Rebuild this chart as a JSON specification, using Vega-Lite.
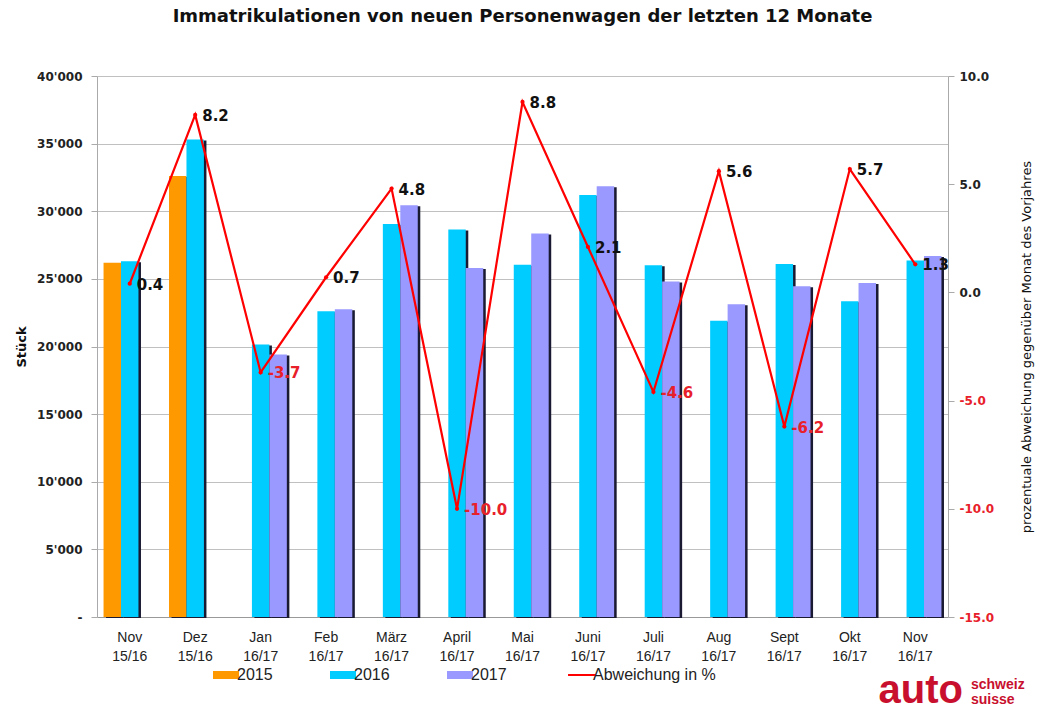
{
  "$schema": "https://vega.github.io/schema/vega-lite/v6.json",
  "background": "white",
  "padding": {"left": 15, "top": 8, "right": 5, "bottom": 0},
  "spacing": -12,
  "datasets": {
    "bars": [
      {"month": "Nov 15/16", "year": "2015", "value": 26200},
      {"month": "Nov 15/16", "year": "2016", "value": 26300},
      {"month": "Dez 15/16", "year": "2015", "value": 32600},
      {"month": "Dez 15/16", "year": "2016", "value": 35300},
      {"month": "Jan 16/17", "year": "2016", "value": 20150},
      {"month": "Jan 16/17", "year": "2017", "value": 19400},
      {"month": "Feb 16/17", "year": "2016", "value": 22600},
      {"month": "Feb 16/17", "year": "2017", "value": 22750},
      {"month": "März 16/17", "year": "2016", "value": 29050},
      {"month": "März 16/17", "year": "2017", "value": 30450},
      {"month": "April 16/17", "year": "2016", "value": 28650},
      {"month": "April 16/17", "year": "2017", "value": 25800},
      {"month": "Mai 16/17", "year": "2016", "value": 26050},
      {"month": "Mai 16/17", "year": "2017", "value": 28350},
      {"month": "Juni 16/17", "year": "2016", "value": 31200},
      {"month": "Juni 16/17", "year": "2017", "value": 31850},
      {"month": "Juli 16/17", "year": "2016", "value": 26000},
      {"month": "Juli 16/17", "year": "2017", "value": 24800},
      {"month": "Aug 16/17", "year": "2016", "value": 21900},
      {"month": "Aug 16/17", "year": "2017", "value": 23125},
      {"month": "Sept 16/17", "year": "2016", "value": 26100},
      {"month": "Sept 16/17", "year": "2017", "value": 24450},
      {"month": "Okt 16/17", "year": "2016", "value": 23350},
      {"month": "Okt 16/17", "year": "2017", "value": 24700},
      {"month": "Nov 16/17", "year": "2016", "value": 26350},
      {"month": "Nov 16/17", "year": "2017", "value": 26700}
    ],
    "pct": [
      {"month": "Nov 15/16", "pct": 0.4},
      {"month": "Dez 15/16", "pct": 8.2},
      {"month": "Jan 16/17", "pct": -3.7},
      {"month": "Feb 16/17", "pct": 0.7},
      {"month": "März 16/17", "pct": 4.8},
      {"month": "April 16/17", "pct": -10.0},
      {"month": "Mai 16/17", "pct": 8.8},
      {"month": "Juni 16/17", "pct": 2.1},
      {"month": "Juli 16/17", "pct": -4.6},
      {"month": "Aug 16/17", "pct": 5.6},
      {"month": "Sept 16/17", "pct": -6.2},
      {"month": "Okt 16/17", "pct": 5.7},
      {"month": "Nov 16/17", "pct": 1.3}
    ],
    "logo": [{"a": "auto", "b": "schweiz|suisse"}]
  },
  "vconcat": [
    {
      "width": 851,
      "height": 541,
      "title": {
        "text": "Immatrikulationen von neuen Personenwagen der letzten 12 Monate",
        "font": "DejaVu Sans",
        "fontSize": 18,
        "fontWeight": "bold",
        "color": "#111111",
        "anchor": "middle",
        "offset": 44
      },
      "layer": [
        {
          "data": {"name": "bars"},
          "encoding": {
            "x": {
              "field": "month", "type": "nominal", "sort": null,
              "scale": {"paddingInner": 0.2, "paddingOuter": 0.1},
              "axis": {
                "title": null,
                "labelAngle": 0,
                "labelExpr": "split(datum.label, ' ')",
                "labelFontSize": 14,
                "labelColor": "#222222",
                "labelPadding": 13,
                "ticks": false,
                "domainColor": "#999999",
                "labelLineHeight": 19
              }
            },
            "y": {
              "field": "value", "type": "quantitative",
              "scale": {"domain": [0, 40000], "nice": false},
              "axis": {
                "title": "Stück",
                "titleFont": "DejaVu Sans",
                "titleFontSize": 13,
                "titleFontWeight": "bold",
                "titleColor": "#111111",
                "titlePadding": 8,
                "values": [0, 5000, 10000, 15000, 20000, 25000, 30000, 35000, 40000],
                "labelExpr": "datum.value == 0 ? '-' : replace(format(datum.value, ','), ',', \"'\")",
                "labelFont": "DejaVu Sans",
                "labelFontSize": 12,
                "labelFontWeight": "bold",
                "labelColor": "#222222",
                "grid": true,
                "gridColor": "#c0c0c0",
                "domainColor": "#aaaaaa",
                "tickColor": "#aaaaaa",
                "tickSize": 6,
                "labelPadding": 9
              }
            }
          },
          "layer": [
            {
              "mark": {"type": "bar", "color": "#1a1a33", "yOffset": 1},
              "encoding": {
                "xOffset": {"field": "year", "type": "nominal", "scale": {"domain": ["2015", "2016", "2017"], "paddingInner": 0, "range": [2.5, 54.9]}}
              }
            },
            {
              "mark": {"type": "bar"},
              "encoding": {
                "xOffset": {"field": "year", "type": "nominal", "scale": {"domain": ["2015", "2016", "2017"], "paddingInner": 0}},
                "color": {
                  "field": "year", "type": "nominal",
                  "scale": {
                    "domain": ["2015", "2016", "2017", "Abweichung in %"],
                    "range": ["#ff9900", "#00ccff", "#9999ff", "#ff0000"]
                  },
                  "legend": {
                    "orient": "none",
                    "legendX": 121,
                    "legendY": 591,
                    "direction": "horizontal",
                    "title": null,
                    "padding": 0,
                    "labelFontSize": 16,
                    "labelColor": "#222222",
                    "labelOffset": 3,
                    "symbolType": "M-2.6,-0.8H2.6V0.8H-2.6Z",
                    "symbolSize": 100,
                    "columnPadding": 57,
                    "labelLimit": 300,
                    "encode": {
                      "symbols": {
                        "update": {
                          "shape": {"signal": "datum.value === 'Abweichung in %' ? 'stroke' : 'M-2.6,-0.8H2.6V0.8H-2.6Z'"},
                          "fill": {"scale": "color", "field": "value"},
                          "stroke": {"scale": "color", "field": "value"},
                          "strokeWidth": {"signal": "datum.value === 'Abweichung in %' ? 2 : 0"},
                          "size": {"signal": "datum.value === 'Abweichung in %' ? 780 : 100"}
                        }
                      }
                    }
                  }
                }
              }
            }
          ],
          "resolve": {"scale": {"xOffset": "independent"}}
        },
        {
          "data": {"name": "pct"},
          "encoding": {
            "x": {"field": "month", "type": "nominal", "sort": null},
            "y": {
              "field": "pct", "type": "quantitative",
              "scale": {"domain": [-15, 10], "nice": false},
              "axis": {
                "orient": "right",
                "title": "prozentuale Abweichung gegenüber Monat des Vorjahres",
                "titleFont": "DejaVu Sans",
                "titleAngle": 270,
                "titleFontSize": 13,
                "titleFontWeight": "normal",
                "titleColor": "#111111",
                "titlePadding": 40,
                "values": [-15, -10, -5, 0, 5, 10],
                "labelExpr": "replace(format(datum.value, '.1f'), '\u2212', '-')",
                "labelFont": "DejaVu Sans",
                "labelFontSize": 12,
                "labelFontWeight": "bold",
                "labelColor": {"condition": {"test": "datum.value < 0", "value": "#e8202a"}, "value": "#222222"},
                "grid": false,
                "domainColor": "#aaaaaa",
                "tickColor": "#aaaaaa",
                "tickSize": 6,
                "labelPadding": 5
              }
            }
          },
          "layer": [
            {
              "mark": {"type": "line", "strokeWidth": 2.2, "point": {"filled": true, "size": 18, "color": "#ff0000"}},
              "encoding": {
                "color": {"datum": "Abweichung in %", "type": "nominal"}
              }
            },
            {
              "transform": [{"calculate": "replace(format(datum.pct, '.1f'), '\u2212', '-')", "as": "label"}],
              "mark": {"type": "text", "align": "left", "baseline": "middle", "dx": 7, "dy": 1, "font": "DejaVu Sans", "fontSize": 15, "fontWeight": "bold"},
              "encoding": {
                "text": {"field": "label"},
                "color": {"condition": {"test": "datum.pct < 0", "value": "#e8202a"}, "value": "#111111"}
              }
            }
          ]
        }
      ],
      "resolve": {"scale": {"y": "independent"}}
    },
    {
      "width": 866,
      "height": 18,
      "data": {"name": "logo"},
      "layer": [
        {
          "mark": {"type": "text", "x": "width", "y": 2, "align": "right", "baseline": "middle", "fontSize": 40, "fontWeight": "bold", "color": "#c8102e"},
          "encoding": {"text": {"field": "a"}}
        },
        {
          "mark": {"type": "text", "x": "width", "y": -4, "dx": 8, "align": "left", "baseline": "middle", "fontSize": 14, "fontWeight": "bold", "color": "#c8102e", "lineBreak": "|", "lineHeight": 15},
          "encoding": {"text": {"field": "b"}}
        }
      ]
    }
  ],
  "resolve": {"scale": {"color": "independent"}, "legend": {"color": "independent"}},
  "config": {
    "font": "Liberation Sans",
    "view": {"stroke": null},
    "axis": {"labelFont": "Liberation Sans", "titleFont": "Liberation Sans"},
    "legend": {"labelFont": "Liberation Sans"},
    "title": {"font": "Liberation Sans"}
  }
}
